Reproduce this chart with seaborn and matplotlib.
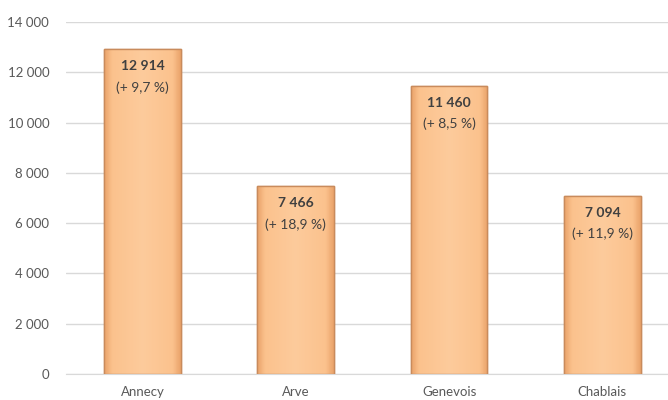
import numpy as np
import pandas as pd
import matplotlib
matplotlib.use("Agg")
import matplotlib.pyplot as plt
from matplotlib.colors import LinearSegmentedColormap
import seaborn as sns

# données
territoires = ["Annecy", "Arve", "Genevois", "Chablais"]
valeurs = [12914, 7466, 11460, 7094]
variations = ["(+ 9,7 %)", "(+ 18,9 %)", "(+ 8,5 %)", "(+ 11,9 %)"]
yticks = [0, 2000, 4000, 6000, 8000, 10000, 12000, 14000]

df = pd.DataFrame({"territoire": territoires, "valeur": valeurs})

sns.set_style("white")
plt.rcParams["font.family"] = ["Lato", "DejaVu Sans"]

fig = plt.figure(figsize=(6.68, 4.0), dpi=100)
ax = fig.add_axes([0.0985, 0.065, 0.9015, 0.88])

sns.barplot(data=df, x="territoire", y="valeur", ax=ax, width=0.5,
            color="#FCC591", edgecolor="#C98B5C", linewidth=1.0, zorder=2)

# effet biseauté : bords un peu plus sombres
cmap = LinearSegmentedColormap.from_list(
    "peche", [(0, "#EBA46C"), (0.1, "#FBC28D"), (0.5, "#FDCB9C"),
              (0.9, "#FBC28D"), (1, "#EBA46C")])
grad = np.linspace(0, 1, 80).reshape(1, -1)
for p in ax.patches:
    x0, w, h = p.get_x(), p.get_width(), p.get_height()
    im = ax.imshow(grad, cmap=cmap, aspect="auto", extent=(x0, x0 + w, 0, h), zorder=2.5)
    im.set_clip_path(p)
    ax.add_patch(plt.Rectangle((x0, 0), w, h, fill=False, edgecolor="#C98B5C",
                               linewidth=1.0, zorder=3))

for i, (v, txt) in enumerate(zip(valeurs, variations)):
    lab = f"{v:,}".replace(",", " ")
    ax.annotate(lab, (i, v), xytext=(0, -17), textcoords="offset pixels",
                ha="center", va="center", fontsize=10, fontweight="bold",
                color="#404040", zorder=4)
    ax.annotate(txt, (i, v), xytext=(0, -38), textcoords="offset pixels",
                ha="center", va="center", fontsize=10, color="#404040", zorder=4)

ax.set_xlim(-0.5, 3.428)
ax.set_ylim(0, 14000)
ax.set_yticks(yticks)
ax.set_yticklabels([f"{t:,}".replace(",", " ") for t in yticks])
ax.yaxis.grid(True, color="#D9D9D9", linewidth=1.0, zorder=0)
ax.set_axisbelow(True)
for s in ["top", "right", "left"]:
    ax.spines[s].set_visible(False)
ax.spines["bottom"].set_color("#D9D9D9")
ax.tick_params(axis="both", length=0, colors="#595959", labelsize=9.5)
ax.tick_params(axis="y", pad=12)
ax.tick_params(axis="x", pad=9)
ax.set_xlabel("")
ax.set_ylabel("")

fig.savefig("out.png", dpi=100)
